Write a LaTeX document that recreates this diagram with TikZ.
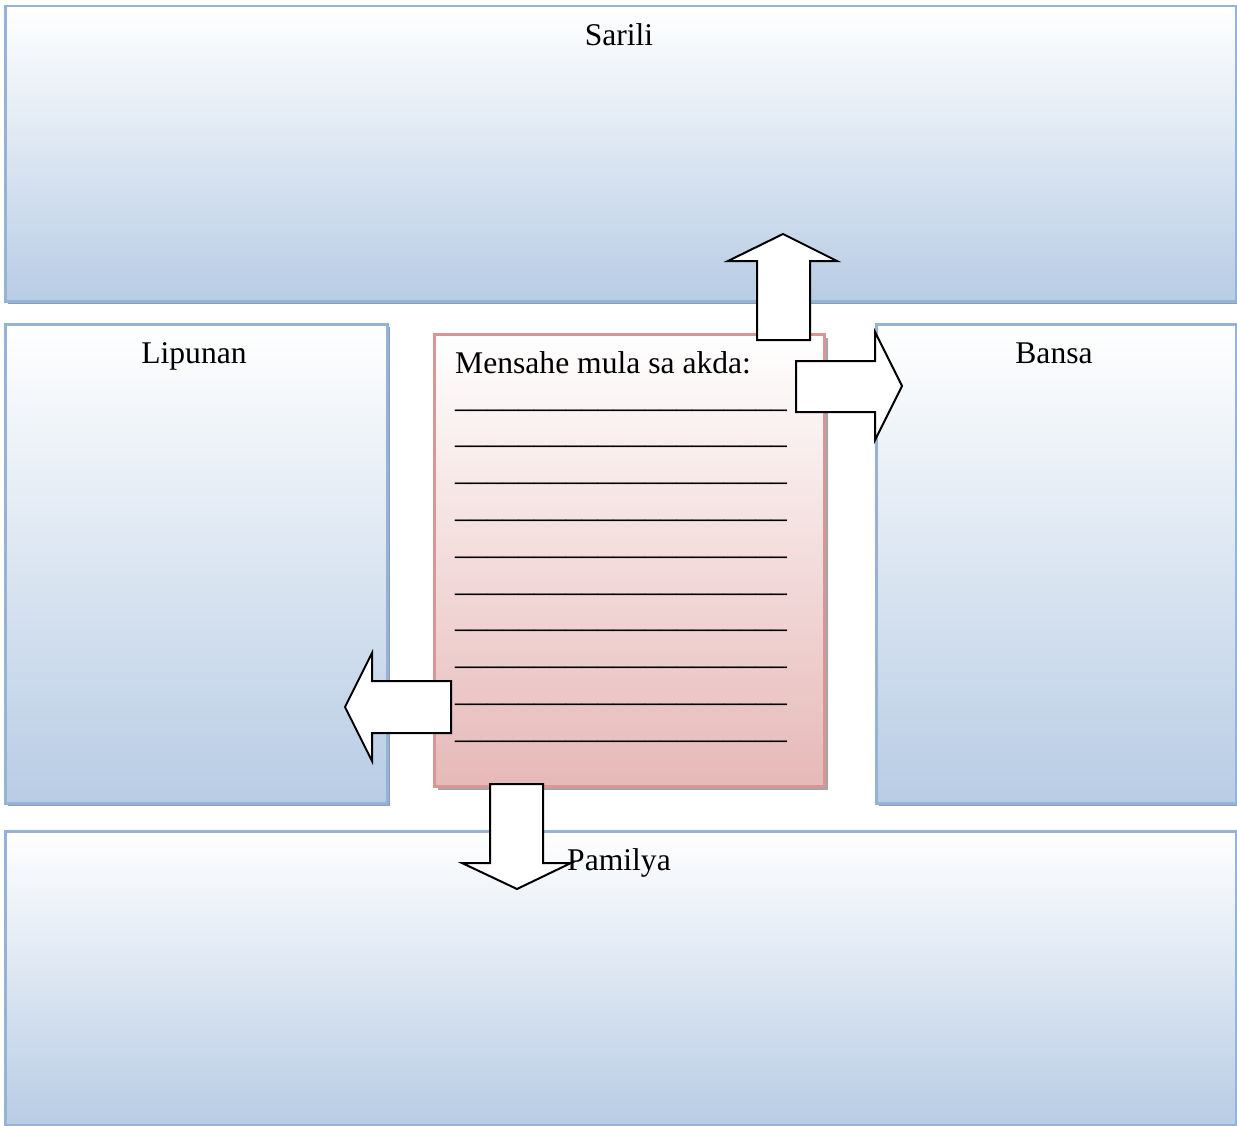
\documentclass[tikz,border=0pt]{standalone}
\usepackage{fontspec}
\setmainfont{Liberation Serif}
\usetikzlibrary{shadows}
\definecolor{bbord}{HTML}{95B3D7}
\definecolor{bfill}{HTML}{B8CCE4}
\definecolor{bshad}{HTML}{8F9CAE}
\definecolor{rbord}{HTML}{D99694}
\definecolor{rfill}{HTML}{E6B9B8}
\definecolor{rshad}{HTML}{A6A6A6}
\begin{document}
\begin{tikzpicture}[x=1pt,y=-1pt,
  bluebox/.style={draw=bbord, line width=2.5pt, top color=white, bottom color=bfill,
    inner sep=0pt, anchor=north west,
    drop shadow={shadow xshift=2.5pt, shadow yshift=-3pt, fill=bshad, opacity=1}},
  redbox/.style={draw=rbord, line width=2.5pt, top color=white, bottom color=rfill,
    inner sep=0pt, anchor=north west,
    drop shadow={shadow xshift=4pt, shadow yshift=-4pt, fill=rshad, opacity=1}},
  blockarrow/.style={draw=black, line width=2pt, fill=white, line join=miter},
  lbl/.style={font=\fontsize{31.6}{36}\selectfont, anchor=base, inner sep=0pt},
  txt/.style={font=\fontsize{31.6}{36}\selectfont, anchor=base west, inner sep=0pt}
]
\useasboundingbox (0,0) rectangle (1237,1126);
\node[bluebox, minimum width=1231pt, minimum height=295pt] (sarili) at (4,5) {};
\node[bluebox, minimum width=382pt, minimum height=479pt] (lipunan) at (4,323) {};
\node[bluebox, minimum width=360pt, minimum height=479pt] (bansa) at (875,323) {};
\node[bluebox, minimum width=1231pt, minimum height=294pt] (pamilya) at (4,830) {};
\node[redbox, minimum width=390pt, minimum height=452pt] (center) at (433,333) {};

\node[txt] (msg) at (455,373) {Mensahe mula sa akda:};
\foreach \i in {0,...,9}
  \node[txt] (u\i) at (455,{407+36.8*\i}) {\_\_\_\_\_\_\_\_\_\_\_\_\_\_\_\_\_\_\_\_\_};

% block arrows
\draw[blockarrow] (757,340) -- (757,261) -- (728,261) -- (783,234) -- (837,261) -- (810,261) -- (810,340) -- cycle;
\draw[blockarrow] (796,361) -- (875,361) -- (875,332) -- (902,386) -- (875,440) -- (875,412) -- (796,412) -- cycle;
\draw[blockarrow] (451,681) -- (372,681) -- (372,653) -- (345,707) -- (372,761) -- (372,733) -- (451,733) -- cycle;
\draw[blockarrow] (490,784) -- (490,863) -- (462,863) -- (517,889) -- (571,863) -- (543,863) -- (543,784) -- cycle;

\node[lbl] (tsarili) at (619,46) {Sarili};
\node[lbl] (tlipunan) at (194,363) {Lipunan};
\node[lbl] (tbansa) at (1054,363) {Bansa};
\node[lbl] (tpamilya) at (619,870) {Pamilya};
\end{tikzpicture}
\end{document}
